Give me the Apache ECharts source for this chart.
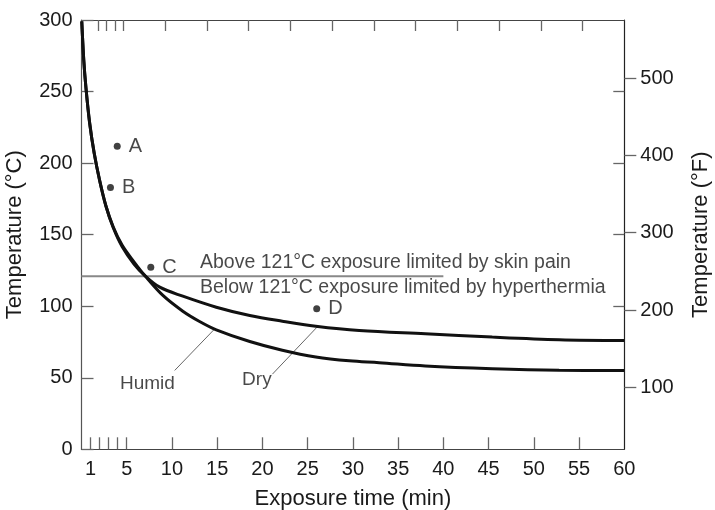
<!DOCTYPE html>
<html>
<head>
<meta charset="utf-8">
<script src="https://cdn.jsdelivr.net/npm/echarts@6/dist/echarts.min.js"></script>
<style>html,body{margin:0;padding:0;background:#fff}#c{width:715px;height:510px}</style>
</head>
<body>
<div id="c"></div>
<script>
// ---- data ----
const humidTime = [0.03, 0.25, 0.5, 0.9, 1.4, 2.0, 2.7, 3.5, 4.5, 5.8, 7.0, 9.0, 11.2, 13.0, 14.9, 18.6, 22.2, 25.9, 29.6, 32.9, 38.0, 45.4, 52.8, 60];
const humidTemp = [299, 272, 252, 228, 207, 188, 170, 155.5, 142.5, 131, 121.4, 107.5, 96.5, 89.5, 83.5, 75.3, 69.2, 64.5, 61.8, 60.5, 58.2, 56.3, 55.2, 55];
const dryTime = [0.03, 0.25, 0.5, 0.9, 1.4, 2.0, 2.7, 3.5, 4.5, 5.8, 7.0, 8.65, 11.2, 14.9, 18.6, 22.2, 25.9, 30.7, 38.0, 45.4, 52.8, 60];
const dryTemp = [299, 272, 252, 228, 207, 188, 170, 155, 141.5, 129.5, 121.4, 113.3, 107, 99.3, 93.5, 89.5, 86, 83, 80.7, 78.4, 76.6, 76];
const pointNames = ['A', 'B', 'C', 'D'];
const pointTime = [3.95, 3.2, 7.66, 26.0];
const pointTemp = [211.7, 183, 127.2, 98.2];
const limitTemp = 121;
const limitTimeRange = [0, 40];
const noteTexts = ['Above 121°C exposure limited by skin pain', 'Below 121°C exposure limited by hyperthermia'];
const noteTime = [13.1, 13.1];
const noteTemp = [130.2, 113.3];
const curveLabels = ['Humid', 'Dry'];
const curveLabelTime = [4.25, 17.75];
const curveLabelTemp = [46, 48.6];
const humidLeader = [[10.3, 55.1], [14.7, 84]];
const dryLeader = [[21.1, 52.5], [26.1, 85.8]];
const xLabelValues = [1, 5, 10, 15, 20, 25, 30, 35, 40, 45, 50, 55, 60];
const xTickValues = [1, 2, 3, 4, 5, 10, 15, 20, 25, 30, 35, 40, 45, 50, 55];
const topTickValues = [2, 3, 4, 5, 10, 15, 20, 25, 30, 35, 40, 45, 50, 55, 60];
const fTickValues = [100, 200, 300, 400, 500];
const cInnerRightTicks = [100, 150, 200, 250];

const zip = (a, b) => a.map((v, i) => [v, b[i]]);
const FONT = '"Liberation Sans", Arial, Helvetica, sans-serif';
const gridBox = {left: 81.5, right: 90.7, top: 20, bottom: 60.7, containLabel: false, outerBoundsMode: 'none'};
const chart = echarts.init(document.getElementById('c'), null, {renderer: 'canvas'});
chart.setOption({
  animation: false,
  textStyle: {fontFamily: FONT},
  grid: [Object.assign({}, gridBox), Object.assign({}, gridBox)],
  xAxis: [
    {
      type: 'value', gridIndex: 0, min: 0, max: 60, position: 'bottom',
      axisLine: {show: true, onZero: false, lineStyle: {color: '#444', width: 1.2}},
      axisTick: {show: true, inside: true, length: 12, customValues: xTickValues, lineStyle: {color: '#666', width: 1.3}},
      axisLabel: {customValues: xLabelValues, fontSize: 20, color: '#1a1a1a', margin: 10, fontFamily: FONT},
      splitLine: {show: false},
      name: 'Exposure time (min)', nameLocation: 'middle', nameGap: 39,
      nameTextStyle: {fontSize: 22, color: '#1a1a1a', fontFamily: FONT}
    },
    {
      type: 'value', gridIndex: 0, min: 0, max: 65, position: 'top',
      axisLine: {show: true, onZero: false, lineStyle: {color: '#444', width: 1.2}},
      axisTick: {show: true, inside: true, length: 11, customValues: topTickValues, lineStyle: {color: '#666', width: 1.3}},
      axisLabel: {show: false},
      splitLine: {show: false}
    },
    {
      type: 'value', gridIndex: 1, min: 0, max: 60, position: 'bottom', show: false
    }
  ],
  yAxis: [
    {
      type: 'value', gridIndex: 0, min: 0, max: 300, interval: 50, position: 'left',
      axisLine: {show: true, onZero: false, lineStyle: {color: '#555', width: 1.2}},
      axisTick: {show: true, inside: true, length: 12, lineStyle: {color: '#666', width: 1.3}},
      axisLabel: {fontSize: 20, color: '#1a1a1a', margin: 9, fontFamily: FONT},
      splitLine: {show: false},
      name: 'Temperature (°C)', nameLocation: 'middle', nameGap: 56,
      nameTextStyle: {fontSize: 22, color: '#1a1a1a', fontFamily: FONT}
    },
    {
      type: 'value', gridIndex: 0, min: 20, max: 575, position: 'right',
      axisLine: {show: true, onZero: false, lineStyle: {color: '#222', width: 1.2}},
      axisTick: {show: true, inside: false, length: 12, customValues: fTickValues, lineStyle: {color: '#666', width: 1.3}},
      axisLabel: {customValues: fTickValues, fontSize: 20, color: '#1a1a1a', margin: 16, fontFamily: FONT},
      splitLine: {show: false},
      name: 'Temperature (°F)', nameLocation: 'middle', nameGap: 66,
      nameTextStyle: {fontSize: 22, color: '#1a1a1a', fontFamily: FONT}
    },
    {
      type: 'value', gridIndex: 1, min: 0, max: 300, position: 'right',
      axisLine: {show: false, onZero: false},
      axisTick: {show: true, inside: true, length: 11, customValues: cInnerRightTicks, lineStyle: {color: '#666', width: 1.3}},
      axisLabel: {show: false},
      splitLine: {show: false}
    }
  ],
  series: [
    {
      name: 'Humid', type: 'line', data: zip(humidTime, humidTemp), smooth: 0.35, showSymbol: false,
      lineStyle: {color: '#111', width: 3}, z: 5
    },
    {
      name: 'Dry', type: 'line', data: zip(dryTime, dryTemp), smooth: 0.35, showSymbol: false,
      lineStyle: {color: '#111', width: 3}, z: 5
    },
    {
      type: 'line', data: limitTimeRange.map(t => [t, limitTemp]), showSymbol: false,
      lineStyle: {color: '#888', width: 2}, z: 3
    },
    {
      type: 'line', data: humidLeader, showSymbol: false, lineStyle: {color: '#666', width: 1}, z: 4
    },
    {
      type: 'line', data: dryLeader, showSymbol: false, lineStyle: {color: '#666', width: 1}, z: 4
    },
    {
      type: 'scatter', symbolSize: 7, itemStyle: {color: '#111'},
      data: pointNames.map((n, i) => ({name: n, value: [pointTime[i], pointTemp[i]]})),
      label: {show: true, position: 'right', distance: 8, formatter: '{b}', fontSize: 20, color: '#1a1a1a', fontFamily: FONT}
    },
    {
      type: 'scatter', symbolSize: 0, silent: true,
      data: noteTexts.map((n, i) => ({name: n, value: [noteTime[i], noteTemp[i]]})),
      label: {show: true, position: 'right', distance: 0, formatter: '{b}', fontSize: 19.5, color: '#1a1a1a', fontFamily: FONT}
    },
    {
      type: 'scatter', symbolSize: 0, silent: true,
      data: curveLabels.map((n, i) => ({name: n, value: [curveLabelTime[i], curveLabelTemp[i]]})),
      label: {show: true, position: 'right', distance: 0, formatter: '{b}', fontSize: 19, color: '#1a1a1a', fontFamily: FONT}
    }
  ]
});
</script>
</body>
</html>
